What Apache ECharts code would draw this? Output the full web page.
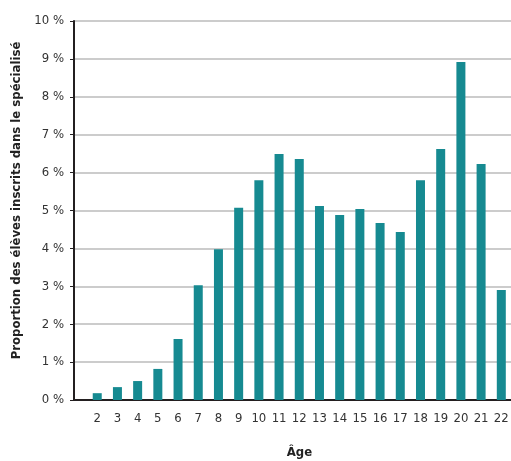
<!DOCTYPE html>
<html>
<head>
<meta charset="utf-8">
<script src="https://cdn.jsdelivr.net/npm/echarts@6/dist/echarts.min.js"></script>
<style>
  html, body { margin: 0; padding: 0; background: #fff; }
  #chart { width: 511px; height: 461px; }
</style>
</head>
<body>
<div id="chart"></div>
<script>
// Ages (x positions of the bars)
const ages = [2, 3, 4, 5, 6, 7, 8, 9, 10, 11, 12, 13, 14, 15, 16, 17, 18, 19, 20, 21, 22];
// Share of pupils enrolled in special education, in %
const shares = [0.18, 0.34, 0.50, 0.82, 1.61, 3.03, 3.98, 5.07, 5.80, 6.49, 6.36,
                5.12, 4.88, 5.04, 4.67, 4.43, 5.80, 6.62, 8.92, 6.23, 2.90];
// Y axis ticks, in %
const yTicks = [0, 1, 2, 3, 4, 5, 6, 7, 8, 9, 10];

const FONT = "'Liberation Sans Narrow', 'DejaVu Sans Condensed', sans-serif";

const chart = echarts.init(document.getElementById('chart'), null, { renderer: 'canvas' });

chart.setOption({
  animation: false,
  backgroundColor: '#ffffff',
  grid: { left: 74, right: 0, top: 21, bottom: 61, containLabel: false, outerBoundsMode: 'none' },
  xAxis: {
    type: 'value',
    min: 0.85,
    max: 22.48,
    name: 'Âge',
    nameLocation: 'middle',
    nameGap: 46,
    nameTextStyle: { fontFamily: FONT, fontWeight: 'bold', fontSize: 13, color: '#222', padding: [0, 0, 0, 14] },
    axisLine: { show: true, onZero: false, lineStyle: { color: '#231f20', width: 2 } },
    axisTick: { show: false },
    splitLine: { show: false },
    axisLabel: {
      customValues: ages,
      margin: 12,
      fontFamily: FONT,
      fontSize: 13,
      color: '#333'
    }
  },
  yAxis: {
    type: 'value',
    min: yTicks[0],
    max: yTicks[yTicks.length - 1],
    interval: 1,
    name: 'Proportion des élèves inscrits dans le spécialisé',
    nameLocation: 'middle',
    nameGap: 50,
    nameRotate: 90,
    nameTextStyle: { fontFamily: FONT, fontWeight: 'bold', fontSize: 13, color: '#222', padding: [0, 0, 0, 20] },
    axisLine: { show: true, lineStyle: { color: '#231f20', width: 2 } },
    axisTick: { show: true, length: 4, lineStyle: { color: '#231f20', width: 1 } },
    splitLine: { show: true, lineStyle: { color: '#cccccc', width: 2 } },
    axisLabel: {
      margin: 10,
      fontFamily: FONT,
      fontSize: 13,
      color: '#333',
      formatter: v => v + ' %'
    }
  },
  series: [{
    type: 'bar',
    data: ages.map((a, i) => [a, shares[i]]),
    barWidth: 9,
    itemStyle: { color: '#168a91' }
  }]
});
</script>
</body>
</html>
